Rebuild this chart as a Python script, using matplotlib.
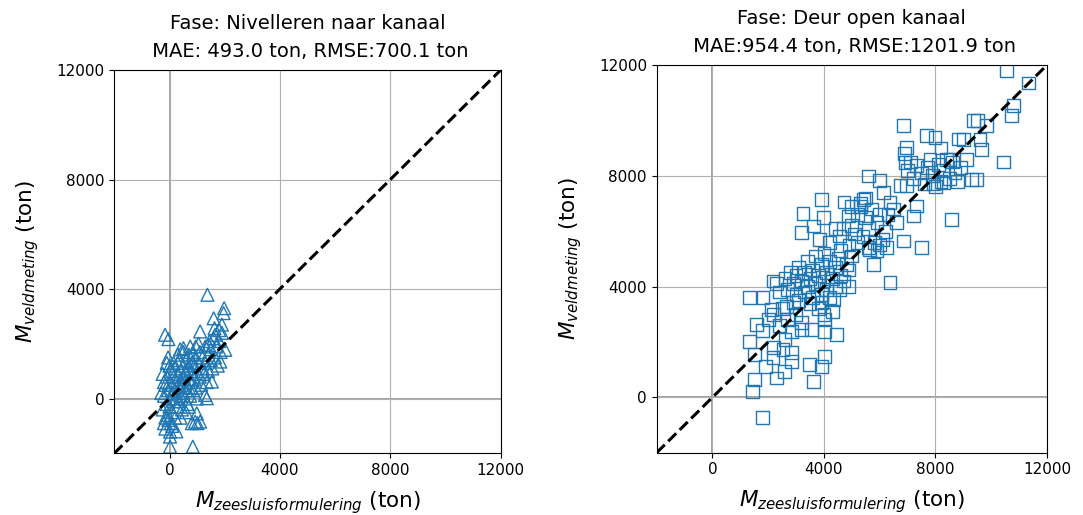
import matplotlib
matplotlib.use('Agg')
import matplotlib.pyplot as plt

# Fase: Nivelleren naar kanaal (zeesluisformulering, veldmeting)
niv_x = [1375, 1980, 1960, 1600, 1110, -160, -40, 385, 750, 1630, 1800, 2020, 1840, 1410,
         20, 20, 845, 810, 1010, 990, -40, 1350, 1290, 1535, 1650, 1900, 505,
         -250, -200, -150, -100, -100, -50, -50, 0, 0, 0, 50, 50, 100, 100, 100, 150, 150,
         200, 200, 200, 250, 250, 300, 300, 300, 350, 350, 400, 400, 400, 450, 450, 500,
         500, 500, 550, 550, 600, 600, 600, 650, 650, 700, 700, 750, 750, 800, 800, 850,
         850, 900, 900, 950, 950, 1000, 1000, 1050, 1100, 1100, 1150, 1200, 1200, 1250,
         1300, 1300, 1350, 1400, 1400, 1450, 1500, 1500, 1550, 1600, 1650, 1700, 1750,
         1800, 1850, 1900, -200, -150, -100, -50, 0, -250, -300, 100, 250, 400, 600, 700,
         300, 500, 700, -200, -150, 150, 350, 850, 950, 1050, 20, 930, 1110]
niv_y = [3790, 3300, 3120, 2930, 2450, 2330, 2170, 1800, 1900, 2570, 2500, 1780, 1350, 1960,
         -1390, -1760, -1760, -900, -900, -540, -780, 10, 130, 620, 2330, 2700, 1840,
         -400, 100, 500, -200, 800, 300, -600, 0, 600, -300, 1000, -900, 200, 500, -500, 800, -100,
         300, 1100, -700, 600, 0, 900, -300, 1300, 400, -100, 700, 1000, 100, -400, 500, 800,
         1200, 200, 0, 600, 900, 1400, 300, -200, 1100, 700, 400, 1000, 100, 1300, 600, 300,
         900, 1200, 700, 1500, 400, 1000, 0, 1300, 800, 1700, 500, 1100, 1500, 900,
         1900, 1300, 600, 1600, 1000, 2100, 1400, 1800, 1100, 2200, 1500, 1900, 1200,
         2100, 1700, 2400, -900, -1100, 1300, 1500, 1200, 900, 200, -1000, -1200, -700, -500, -300,
         1600, 1700, 1600, 600, -700, 1300, 1400, 1600, 1900, 2000, -1210, -845, -845]

# Fase: Deur open kanaal
deur_x = [10550, 11330, 10790, 10730, 10430, 9355, 9500, 9835, 9655, 9300, 9475, 6840, 7680,
          7980, 8815, 8520, 6965, 6905, 7325, 5585, 6005, 6725, 6965, 7920, 8280, 8580, 7200,
          7325, 3915, 4715, 3250, 3970, 3195, 3610, 3850, 4870, 5405, 6125, 6365, 6840, 7500,
          5765, 6365, 4550, 5645, 6245, 1340, 1815, 2175, 2120, 1580, 1340, 1520, 2175, 2595,
          2295, 1520, 1435, 1795, 3610, 3495, 3915, 4030, 4450, 3195, 3555, 2835, 4030, 4030,
          2835, 2835, 2530, 2655, 2895, 4570, 4870, 4330, 3915,
          7000, 7200, 7500, 7700, 7900, 8100, 8300, 8500, 8700, 8900, 8000, 8200, 7600, 8800,
          9100, 8400, 7800, 8600, 9000, 9600, 8200, 6900, 7100,
          5000, 5200, 5300, 5500, 5600, 5700, 5900, 6000, 6200, 5400, 5100, 4900, 5800, 6100,
          5300, 5500, 6600, 6300, 5200, 4700, 5000, 4400, 4600, 4200, 5600, 6000, 5900, 6500,
          2600, 2800, 2900, 3000, 3100, 3200, 3300, 3400, 3500, 3600, 3700, 3800, 3900, 4000,
          4100, 4200, 4300, 4400, 4500, 4600, 4800, 5000, 2700, 3000, 3300, 3600, 3900, 4100,
          4400, 2400, 2300, 3700, 3400, 4000, 4200, 3500, 3100, 2500, 2200, 2000, 1800, 2400,
          3800, 4700, 4900, 3200, 2600, 2200, 1900, 2700, 3000, 4000, 4300]
deur_y = [11800, 11350, 10530, 10190, 8500, 9985, 10000, 9805, 8960, 7875, 7875, 9805, 9440,
          9385, 9325, 8600, 9020, 8480, 8360, 7995, 7815, 7635, 7635, 7700, 7750, 6430, 6550,
          6910, 7150, 7055, 6645, 6490, 5950, 6185, 5705, 6550, 7150, 7395, 7035, 5645, 5405,
          4800, 4140, 5825, 5345, 5405, 3595, 3595, 4200, 3175, 2630, 2025, 1545, 1425, 940,
          700, 640, 215, -725, 580, 1185, 1120, 1485, 2270, 2450, 2450, 2390, 2810, 2390,
          1605, 1300, 1725, 3290, 3415, 3895, 4015, 3535, 3415,
          8200, 7900, 8100, 8300, 8000, 8400, 8200, 7900, 8100, 8300, 7600, 7800, 7700, 7800,
          8600, 8600, 8600, 8500, 9300, 9300, 9000, 8800, 8500,
          6200, 6600, 6900, 6500, 6100, 6800, 6300, 6600, 6000, 5800, 5900, 5500, 5600, 5700,
          7000, 7200, 6300, 6600, 5600, 6100, 6900, 6100, 5300, 5600, 5400, 5500, 5300, 6800,
          4300, 4500, 4100, 4400, 4700, 4200, 4500, 4000, 4300, 4600, 4100, 4400, 4800, 4200,
          4500, 4900, 4300, 4700, 5000, 4400, 4800, 5100, 3900, 3700, 3800, 3600, 3700, 3900,
          4000, 3800, 4100, 5100, 4900, 5200, 3600, 3400, 3500, 3200, 3000, 2800, 2400, 2600,
          3200, 4200, 4600, 2700, 2100, 1800, 1100, 2800, 3000, 3000, 3100]

ticks = [0, 4000, 8000, 12000]
lims = (-2000, 12000)

fig = plt.figure(figsize=(10.83, 5.15), dpi=100)
ax1 = fig.add_axes([114.3 / 1083, 61.7 / 515, 386.4 / 1083, 383.3 / 515])
ax2 = fig.add_axes([656.7 / 1083, 62.3 / 515, 390.3 / 1083, 387.7 / 515])


def draw_panel(ax, x, y, marker, title):
    ax.grid(True, zorder=0)
    ax.axhline(0, color='grey', lw=1.3, alpha=0.8, zorder=1)
    ax.axvline(0, color='grey', lw=1.3, alpha=0.8, zorder=1)
    ax.scatter(x, y, marker=marker, s=85, facecolors='none', edgecolors='C0',
               linewidths=1.0, zorder=2)
    ax.plot(lims, lims, 'k--', lw=2.2, zorder=3)
    ax.set_xlim(lims)
    ax.set_ylim(lims)
    ax.set_xticks(ticks)
    ax.set_yticks(ticks)
    ax.tick_params(labelsize=11)
    ax.set_title(title, fontsize=14, linespacing=1.6, pad=9)
    ax.set_xlabel('$M_{zeesluisformulering}$ (ton)', fontsize=15.5, labelpad=8)
    ax.set_ylabel('$M_{veldmeting}$ (ton)', fontsize=15.5, labelpad=11)


draw_panel(ax1, niv_x, niv_y, '^',
           'Fase: Nivelleren naar kanaal\n MAE: 493.0 ton, RMSE:700.1 ton')
draw_panel(ax2, deur_x, deur_y, 's',
           'Fase: Deur open kanaal\n MAE:954.4 ton, RMSE:1201.9 ton')

fig.savefig('out.png', dpi=100)
